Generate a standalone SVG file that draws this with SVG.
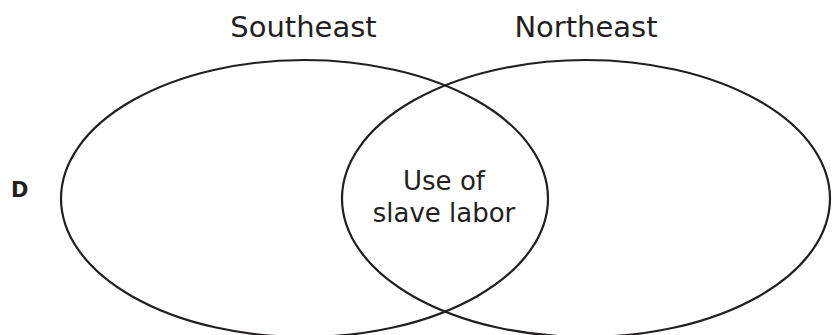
<svg xmlns="http://www.w3.org/2000/svg" width="833" height="335" viewBox="0 0 833 335">
<style>
.ring{fill:none;stroke:#231f20;stroke-width:2.2}
.t{font-family:"DejaVu Sans",Verdana,sans-serif;fill:#231f20;text-anchor:middle}
</style>
<rect width="833" height="335" fill="#ffffff"/>
<g id="southeast">
<ellipse class="ring" cx="304.5" cy="198.5" rx="243.5" ry="138.5"/>
<text class="t" x="303.5" y="37" font-size="29">Southeast</text>
</g>
<g id="northeast">
<ellipse class="ring" cx="586" cy="198.5" rx="244" ry="138.5"/>
<text class="t" x="586" y="37" font-size="29">Northeast</text>
</g>
<g id="overlap">
<text class="t" x="444" y="190" font-size="26">Use of</text>
<text class="t" x="444" y="222" font-size="26">slave labor</text>
</g>
<g id="label-d">
<text x="11" y="197" font-family="'DejaVu Sans',Verdana,sans-serif" font-weight="bold" font-size="21" fill="#231f20">D</text>
</g>
<g id="connectors"></g>
</svg>
